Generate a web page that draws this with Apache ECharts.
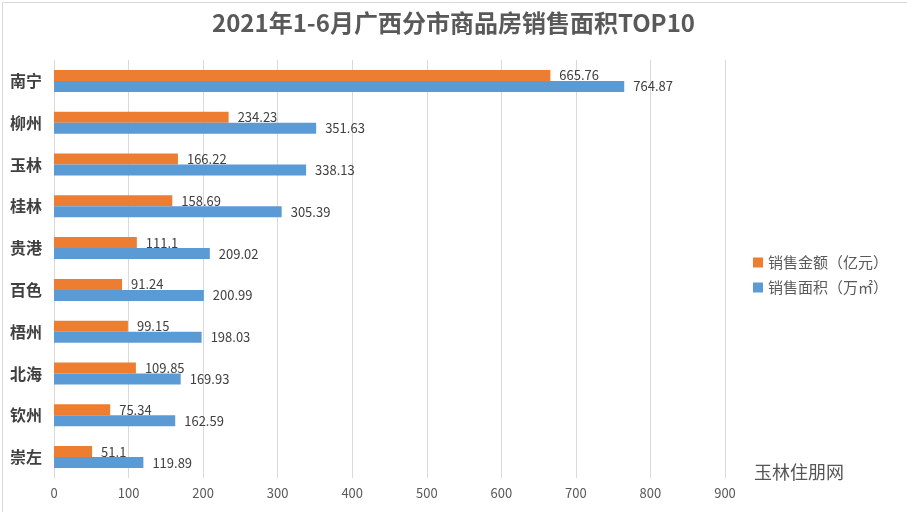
<!DOCTYPE html>
<html><head><meta charset="utf-8">
<script src="https://cdn.jsdelivr.net/npm/echarts@6/dist/echarts.min.js"></script>
<style>html,body{margin:0;padding:0;background:#fff}#c{width:907px;height:512px}</style>
</head><body><div id="c"></div>
<script>
const categories = ['南宁','柳州','玉林','桂林','贵港','百色','梧州','北海','钦州','崇左'];
const salesAmount = [665.76,234.23,166.22,158.69,111.1,91.24,99.15,109.85,75.34,51.1];
const salesArea = [764.87,351.63,338.13,305.39,209.02,200.99,198.03,169.93,162.59,119.89];
const seriesNames = ['销售金额（亿元）','销售面积（万㎡）'];
const xTicks = [0,100,200,300,400,500,600,700,800,900];

const chart = echarts.init(document.getElementById('c'));
const font = '"Microsoft YaHei","Noto Sans CJK SC",sans-serif';
chart.setOption({
  backgroundColor:'#fff',
  animation:false,
  title:{text:'2021年1-6月广西分市商品房销售面积TOP10',left:'center',top:6,
    textStyle:{fontSize:24,fontWeight:'bold',color:'#595959',fontFamily:font}},
  legend:{orient:'vertical',left:748,top:250,itemWidth:10,itemHeight:10,itemGap:10,
    icon:'rect',textStyle:{fontSize:15,color:'#595959',fontFamily:font},data:seriesNames},
  grid:{left:54,right:182,top:60,bottom:34,containLabel:false},
  xAxis:{type:'value',min:xTicks[0],max:xTicks[xTicks.length-1],interval:100,
    axisLine:{show:false},axisTick:{show:false},
    axisLabel:{color:'#595959',fontSize:13,fontFamily:font,margin:9},
    splitLine:{lineStyle:{color:'#d9d9d9'}}},
  yAxis:{type:'category',data:categories,inverse:true,
    axisLine:{lineStyle:{color:'#d9d9d9'}},axisTick:{show:false},
    axisLabel:{color:'#404040',fontSize:16,fontWeight:'bold',fontFamily:font,margin:12}},
  series:[
    {name:seriesNames[0],type:'bar',data:salesAmount,barWidth:11,barGap:'0%',
      itemStyle:{color:'#ed7d31'},
      label:{show:true,position:'right',distance:9,color:'#404040',fontSize:13,fontFamily:font}},
    {name:seriesNames[1],type:'bar',data:salesArea,barWidth:11,barGap:'0%',
      itemStyle:{color:'#5b9bd5'},
      label:{show:true,position:'right',distance:9,color:'#404040',fontSize:13,fontFamily:font}}
  ],
  graphic:[
    {type:'rect',left:0,top:0,shape:{width:906,height:511},style:{fill:'none',stroke:'#d9d9d9',lineWidth:1},silent:true},
    {type:'text',left:754,top:463,style:{text:'玉林住朋网',fontSize:18,fontFamily:font,fill:'#555'}}
  ]
});
</script></body></html>
